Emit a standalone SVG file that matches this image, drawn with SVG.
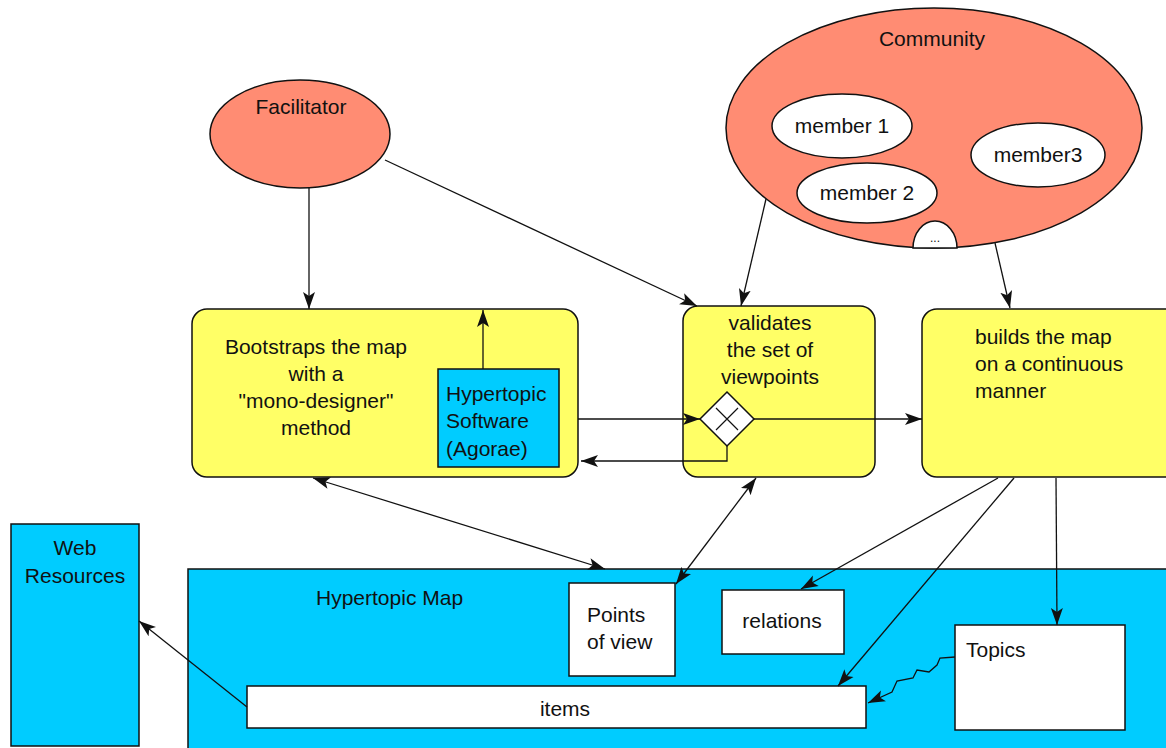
<svg xmlns="http://www.w3.org/2000/svg" width="1166" height="748" viewBox="0 0 1166 748">
  <style>
    text { font-family: "Liberation Sans", Arial, sans-serif; font-size: 21px; fill: #111; }
    .mid { text-anchor: middle; }
    .salmon { fill: #FF8C73; stroke: #111; stroke-width: 1.5; }
    .member { fill: #fff; stroke: #111; stroke-width: 1.5; }
    .task { fill: #FFFF66; stroke: #111; stroke-width: 1.5; }
    .cyan { fill: #00CCFF; stroke: #111; stroke-width: 1.5; }
    .white { fill: #fff; stroke: #111; stroke-width: 1.5; }
    .edge { fill: none; stroke: #111; stroke-width: 1.3; }
  </style>
  <defs>
    <marker id="arrow" markerUnits="userSpaceOnUse" markerWidth="20" markerHeight="14" refX="17" refY="7" orient="auto-start-reverse">
      <path d="M0,1 L17,7 L0,13 L4,7 Z" fill="#111"/>
    </marker>
  </defs>

  <rect width="1166" height="748" fill="#fff"/>

  <!-- map container and web resources -->
  <g id="web-resources">
    <rect class="cyan" x="11" y="524" width="128" height="222"/>
    <text class="mid" x="75" y="555">Web</text>
    <text class="mid" x="75" y="583">Resources</text>
  </g>
  <g id="hypertopic-map">
    <rect class="cyan" x="188" y="569" width="1000" height="200"/>
    <text x="316" y="605">Hypertopic Map</text>
  </g>
  <g id="points-of-view">
    <rect class="white" x="569" y="583" width="106" height="93"/>
    <text x="587" y="622">Points</text>
    <text x="587" y="649">of view</text>
  </g>
  <g id="relations">
    <rect class="white" x="722" y="590" width="122" height="64"/>
    <text class="mid" x="782" y="628">relations</text>
  </g>
  <g id="topics">
    <rect class="white" x="955" y="625" width="170" height="105"/>
    <text x="966" y="657">Topics</text>
  </g>
  <g id="items">
    <rect class="white" x="247" y="686" width="619" height="42"/>
    <text class="mid" x="565" y="716">items</text>
  </g>

  <!-- actors -->
  <g id="facilitator">
    <ellipse class="salmon" cx="300" cy="134" rx="90" ry="54"/>
    <text class="mid" x="301" y="114">Facilitator</text>
  </g>
  <g id="community">
    <ellipse class="salmon" cx="934" cy="128" rx="208" ry="120"/>
    <text class="mid" x="932" y="46">Community</text>
    <g id="member-1">
      <ellipse class="member" cx="842" cy="126" rx="70" ry="32"/>
      <text class="mid" x="842" y="133">member 1</text>
    </g>
    <g id="member-2">
      <ellipse class="member" cx="867" cy="193" rx="70" ry="30"/>
      <text class="mid" x="867" y="200">member 2</text>
    </g>
    <g id="member-3">
      <ellipse class="member" cx="1038" cy="155" rx="67" ry="32"/>
      <text class="mid" x="1038" y="162">member3</text>
    </g>
    <g id="member-more">
      <path class="member" d="M913,248 A22,27 0 0 1 957,248 Z"/>
      <text class="mid" x="935" y="242" style="font-size:12px">...</text>
    </g>
  </g>

  <!-- activities -->
  <g id="bootstrap">
    <rect class="task" x="192" y="309" width="386" height="168" rx="15"/>
    <text class="mid" x="316" y="354">Bootstraps the map</text>
    <text class="mid" x="316" y="381">with a</text>
    <text class="mid" x="316" y="408">"mono-designer"</text>
    <text class="mid" x="316" y="435">method</text>
  </g>
  <g id="hypertopic-software">
    <rect class="cyan" x="438" y="369" width="121" height="98"/>
    <text x="446" y="401">Hypertopic</text>
    <text x="446" y="428">Software</text>
    <text x="446" y="456">(Agorae)</text>
  </g>
  <g id="validates">
    <rect class="task" x="683" y="306" width="192" height="171" rx="15"/>
    <text class="mid" x="770" y="330">validates</text>
    <text class="mid" x="770" y="357">the set of</text>
    <text class="mid" x="770" y="384">viewpoints</text>
  </g>
  <g id="builds">
    <rect class="task" x="922" y="309" width="260" height="168" rx="15"/>
    <text x="975" y="344">builds the map</text>
    <text x="975" y="371">on a continuous</text>
    <text x="975" y="398">manner</text>
  </g>

  <!-- connectors -->
  <g id="connectors">
    <line class="edge" x1="309" y1="188" x2="309" y2="309" marker-end="url(#arrow)"/>
    <line class="edge" x1="385" y1="160" x2="697" y2="306" marker-end="url(#arrow)"/>
    <line class="edge" x1="766" y1="199" x2="741" y2="306" marker-end="url(#arrow)"/>
    <line class="edge" x1="995" y1="243" x2="1010" y2="308" marker-end="url(#arrow)"/>
    <line class="edge" x1="483" y1="369" x2="483" y2="310" marker-end="url(#arrow)"/>
    <line class="edge" x1="578" y1="419" x2="700" y2="419" marker-end="url(#arrow)"/>
    <polyline class="edge" points="727,446 727,461 581,461" marker-end="url(#arrow)"/>
    <line class="edge" x1="754" y1="419" x2="922" y2="419" marker-end="url(#arrow)"/>
    <line class="edge" x1="313" y1="478" x2="605" y2="569" marker-start="url(#arrow)" marker-end="url(#arrow)"/>
    <line class="edge" x1="756" y1="478" x2="676" y2="584" marker-start="url(#arrow)" marker-end="url(#arrow)"/>
    <line class="edge" x1="998" y1="478" x2="801" y2="589" marker-end="url(#arrow)"/>
    <line class="edge" x1="1014" y1="478" x2="838" y2="686" marker-end="url(#arrow)"/>
    <line class="edge" x1="1056" y1="478" x2="1057" y2="625" marker-end="url(#arrow)"/>
    <polyline class="edge" points="955,657 940,658 937,665 929,672 917,670 913,678 897,681 892,692 868,703" marker-end="url(#arrow)"/>
    <line class="edge" x1="247" y1="707" x2="139" y2="621" marker-end="url(#arrow)"/>
  </g>

  <!-- gateway drawn over the activity flow lines -->
  <g id="gateway">
    <path class="white" d="M727,392 L754,419 L727,446 L700,419 Z"/>
    <path d="M716,408 L738,430 M738,408 L716,430" stroke="#111" stroke-width="1.2"/>
  </g>
</svg>
